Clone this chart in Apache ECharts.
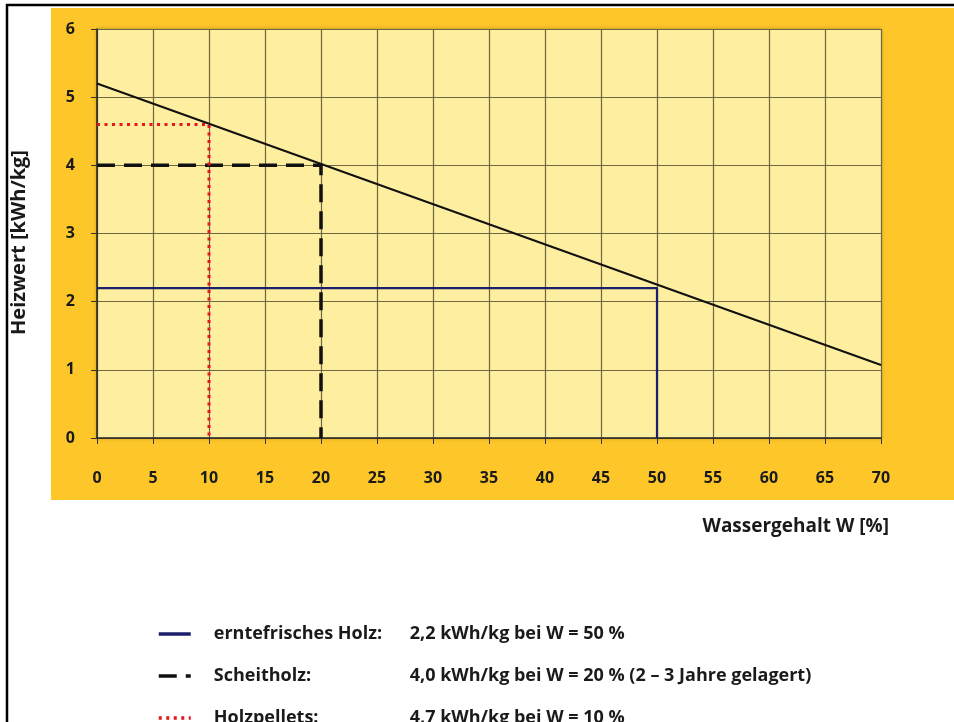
<!DOCTYPE html>
<html>
<head>
<meta charset="UTF-8">
<title>Heizwert</title>
<script type="text/javascript" src="https://cdn.jsdelivr.net/npm/echarts@6/dist/echarts.min.js"></script>
<style type="text/css">
html, body { margin: 0; padding: 0; background: #fff; }
#chart { width: 954px; height: 722px; }
</style>
</head>
<body>
	<div id="chart"></div>
<script type="text/javascript">
	// Heizwert abhängig vom Wassergehalt (Linie durch zwei Endpunkte)
	var heizwertLine = [ [ 0, 5.2 ], [ 70, 1.07 ] ];
	// Markierungen: waagrecht bis W, dann senkrecht auf 0
	var ernteFrisch = [ [ 0, 2.2 ], [ 50, 2.2 ], [ 50, 0 ] ];
	var scheitholz = [ [ 0, 4.0 ], [ 20, 4.0 ], [ 20, 0 ] ];
	var pellets = [ [ 0, 4.6 ], [ 10, 4.6 ], [ 10, 0 ] ];

	var legendNames = [ 'erntefrisches Holz:', 'Scheitholz:', 'Holzpellets:' ];
	var legendTexts = [ '2,2 kWh/kg bei W = 50 %',
			'4,0 kWh/kg bei W = 20 % (2 – 3 Jahre gelagert)',
			'4,7 kWh/kg bei W = 10 %' ];

	var FONT = "'Open Sans', 'Noto Sans', sans-serif";
	var TXT = '#1a1a1a';

	var myChart = echarts.init(document.getElementById('chart'));
	var option = {
		backgroundColor : '#ffffff',
		animation : false,
		textStyle : { fontFamily : FONT },
		graphic : [ {
			type : 'rect',
			z : -10,
			shape : { x : 7, y : 5, width : 960, height : 730 },
			style : { fill : '#ffffff', stroke : '#000', lineWidth : 2.5 }
		}, {
			type : 'rect',
			z : -9,
			shape : { x : 51, y : 8, width : 910, height : 492 },
			style : { fill : '#FDC72A' }
		} ],
		grid : {
			left : 97,
			top : 29,
			width : 784,
			height : 409,
			outerBoundsMode : 'none',
			show : true,
			backgroundColor : '#FEEEA0',
			borderWidth : 0,
			shadowColor : 'rgba(0,0,0,0.3)',
			shadowBlur : 4
		},
		xAxis : {
			type : 'value',
			min : 0,
			max : 70,
			interval : 5,
			name : 'Wassergehalt W [%]',
			nameLocation : 'end',
			nameGap : 8,
			nameTextStyle : {
				align : 'right',
				verticalAlign : 'top',
				padding : [ 79, 0, 0, 0 ],
				fontSize : 19,
				fontWeight : 'bold',
				color : TXT,
				fontFamily : FONT
			},
			axisLine : { show : true, lineStyle : { color : '#222', width : 1.5 } },
			axisTick : { show : true, length : 6, lineStyle : { color : '#333' } },
			axisLabel : { margin : 32, fontSize : 16, fontWeight : 'bold', color : TXT, fontFamily : FONT },
			splitLine : { show : true, lineStyle : { color : '#6e6742', width : 1.2 } }
		},
		yAxis : {
			type : 'value',
			min : 0,
			max : 6,
			interval : 1,
			name : 'Heizwert [kWh/kg]',
			nameLocation : 'middle',
			nameRotate : 90,
			nameGap : 68,
			nameTextStyle : { fontSize : 20, fontWeight : 'bold', color : TXT, fontFamily : FONT, padding : [ 0, 18, 0, 0 ] },
			axisLine : { show : true, lineStyle : { color : '#222', width : 1.5 } },
			axisTick : { show : true, length : 6, lineStyle : { color : '#333' } },
			axisLabel : { margin : 22, fontSize : 16, fontWeight : 'bold', color : TXT, fontFamily : FONT },
			splitLine : { show : true, lineStyle : { color : '#6e6742', width : 1.2 } }
		},
		legend : {
			orient : 'vertical',
			left : 152,
			top : 620,
			height : 120,
			itemWidth : 32,
			itemHeight : 14,
			itemGap : 24,
			data : legendNames,
			itemStyle : { opacity : 0 },
			lineStyle : { width : 3.5 },
			textStyle : {
				fontFamily : FONT,
				fontSize : 18,
				fontWeight : 'bold',
				color : TXT,
				rich : {
					a : { width : 196, padding : [ 0, 0, 0, 18 ], fontSize : 18, fontWeight : 'bold', color : TXT, fontFamily : FONT },
					b : { fontSize : 18, fontWeight : 'bold', color : TXT, fontFamily : FONT }
				}
			},
			formatter : function(name) {
				var i = legendNames.indexOf(name);
				return '{a|' + name + '}{b|' + legendTexts[i] + '}';
			}
		},
		series : [ {
			name : 'Heizwert',
			type : 'line',
			symbol : 'none',
			data : heizwertLine,
			lineStyle : { color : '#111', width : 2 },
			z : 5
		}, {
			name : legendNames[0],
			type : 'line',
			symbol : 'none',
			data : ernteFrisch,
			itemStyle : { color : '#1c1f6b' },
			lineStyle : { color : '#1c1f6b', width : 2.2 },
			z : 4
		}, {
			name : legendNames[1],
			type : 'line',
			symbol : 'none',
			data : scheitholz,
			itemStyle : { color : '#111' },
			lineStyle : { color : '#111', width : 3.5, type : [ 18, 9 ] },
			z : 4
		}, {
			name : legendNames[2],
			type : 'line',
			symbol : 'none',
			data : pellets,
			itemStyle : { color : '#e8141e' },
			lineStyle : { color : '#e8141e', width : 3, type : [ 3, 4.5 ] },
			z : 4
		} ]
	};
	myChart.setOption(option);
</script>
</body>
</html>
